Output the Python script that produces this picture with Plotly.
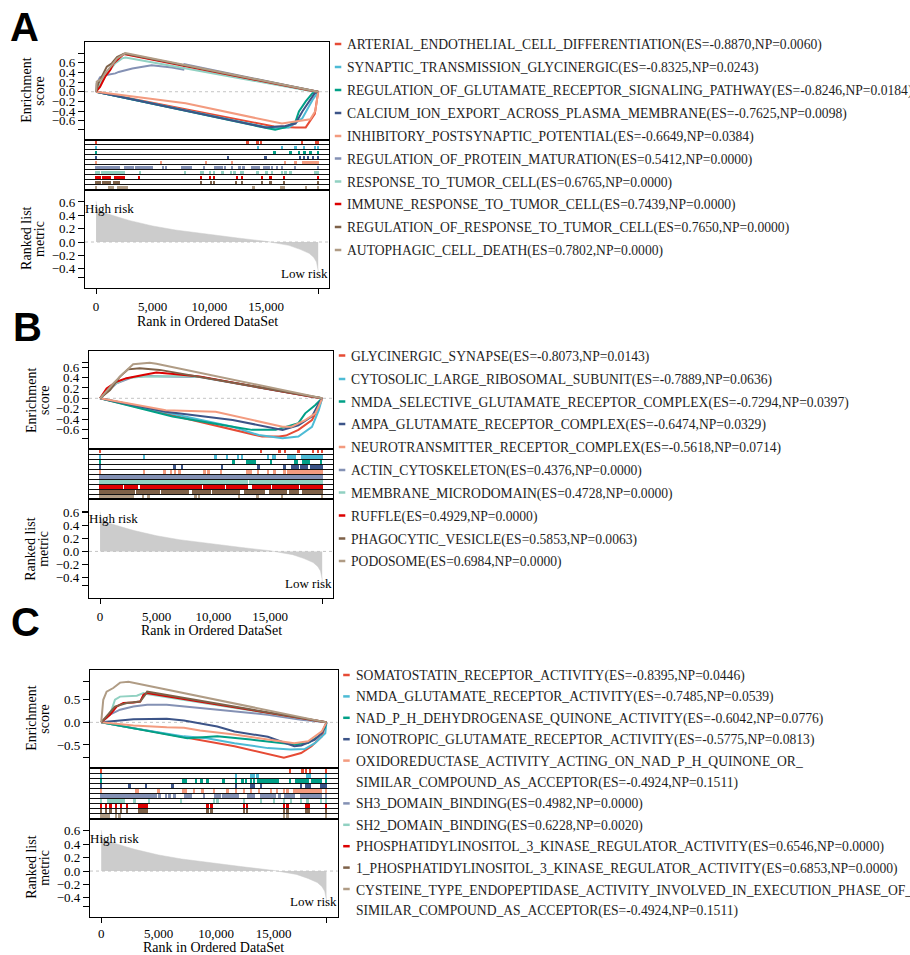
import plotly.graph_objects as go

W, H = 910, 955
N_GENES = 19600
SET_COLORS = ["#E64B35", "#4DBBD5", "#00A087", "#3C5488", "#F39B7F",
              "#8491B4", "#91D1C2", "#DC0000", "#7E6148", "#B09C85"]

RANK_TICKS = [0, 5000, 10000, 15000]
RANK_TICK_TEXT = ["0", "5,000", "10,000", "15,000"]

# ranked list metric (shared by the three panels)
METRIC_RANK = [0, 100, 300, 1000, 2000, 3000, 5000, 7000, 10000, 12500, 15000,
               16000, 17000, 18000, 18800, 19200, 19450, 19585, 19600]
METRIC_VALUE = [0.61, 0.50, 0.46, 0.42, 0.37, 0.32, 0.24, 0.18, 0.11, 0.06, 0.01,
                -0.015, -0.05, -0.11, -0.17, -0.23, -0.30, -0.42, -0.53]
METRIC_TICKS = [-0.4, -0.2, 0.0, 0.2, 0.4, 0.6]

# ---------------- panel A ----------------
A_TERMS = [
    "ARTERIAL_ENDOTHELIAL_CELL_DIFFERENTIATION(ES=-0.8870,NP=0.0060)",
    "SYNAPTIC_TRANSMISSION_GLYCINERGIC(ES=-0.8325,NP=0.0243)",
    "REGULATION_OF_GLUTAMATE_RECEPTOR_SIGNALING_PATHWAY(ES=-0.8246,NP=0.0184)",
    "CALCIUM_ION_EXPORT_ACROSS_PLASMA_MEMBRANE(ES=-0.7625,NP=0.0098)",
    "INHIBITORY_POSTSYNAPTIC_POTENTIAL(ES=-0.6649,NP=0.0384)",
    "REGULATION_OF_PROTEIN_MATURATION(ES=0.5412,NP=0.0000)",
    "RESPONSE_TO_TUMOR_CELL(ES=0.6765,NP=0.0000)",
    "IMMUNE_RESPONSE_TO_TUMOR_CELL(ES=0.7439,NP=0.0000)",
    "REGULATION_OF_RESPONSE_TO_TUMOR_CELL(ES=0.7650,NP=0.0000)",
    "AUTOPHAGIC_CELL_DEATH(ES=0.7802,NP=0.0000)",
]
A_ES_RANK = [
    [0, 15700, 17600, 18500, 19300, 19550, 19600],
    [0, 15550, 17000, 18200, 19100, 19450, 19600],
    [0, 15800, 16700, 17600, 17900, 18500, 19100, 19600],
    [0, 14950, 16700, 17600, 18200, 18700, 19300, 19600],
    [0, 7900, 16400, 17400, 18900, 19350, 19550, 19600],
    [0, 60, 350, 800, 1700, 2000, 3200, 4900, 6700, 7700, 7800, 18800, 19600],
    [0, 500, 1100, 1700, 2300, 2600, 18800, 19600],
    [0, 350, 800, 1250, 1550, 2000, 2450, 18800, 19600],
    [0, 200, 650, 950, 1400, 1850, 2500, 18800, 19600],
    [0, 60, 500, 800, 1400, 1850, 2600, 18800, 19600],
]
A_ES_SCORE = [
    [0, -0.72, -0.74, -0.74, -0.46, -0.03, 0],
    [0, -0.76, -0.74, -0.55, -0.17, -0.03, 0],
    [0, -0.79, -0.74, -0.62, -0.41, -0.20, -0.03, 0],
    [0, -0.74, -0.71, -0.66, -0.41, -0.24, -0.03, 0],
    [0, -0.24, -0.66, -0.62, -0.57, -0.40, -0.05, 0],
    [0, 0.17, 0.30, 0.34, 0.38, 0.41, 0.48, 0.55, 0.50, 0.46, 0.57, 0.03, 0],
    [0, 0.21, 0.41, 0.59, 0.69, 0.71, 0.02, 0],
    [0, 0.10, 0.31, 0.45, 0.59, 0.69, 0.78, 0.03, 0],
    [0, 0.17, 0.38, 0.52, 0.59, 0.72, 0.79, 0.03, 0],
    [0, 0.21, 0.26, 0.38, 0.55, 0.69, 0.80, 0.03, 0],
]
A_HITS = [
    [0, 13390, 14250, 14600, 18170, 19440, 19600],
    [0, 14310, 16430, 17610, 18350, 19320, 19600],
    [0, 15780, 17170, 17910, 18410, 18940, 19600],
    [0, 11650, 14960, 18000, 18350, 18730, 19150, 19600],
    [0, 5750, 9710, 12010, 16670, 17610, [18260, 19600]],
    [[0, 500], [650, 1100], [1250, 2000], [2570, 3300], [3500, 4200], [4400, 4930], 5930, 6170,
     [7580, 8350], 9530, [10470, 11100], 11420, 12010, 12690, 13040, [13780, 14370],
     [14810, 15250], 15550, 15990, 16430, 17550, 19600],
    [[0, 300], [500, 1000], [1100, 2450], 3900, 7880, [9290, 9410], 10090, 10410, 11180, 11950,
     12240, 12830, 13010, 14250, 15050, 15550, 16430, 16730, 17170, 19380, 19600],
    [[0, 350], [600, 1200], [1650, 2450], 3810, 9290, 10090, 10410, 12450, 12890, 14660, 15400,
     16580, 19600],
    [[0, 350], [600, 1200], [1600, 2000], 9290, 10180, 10410, 12360, 12890, 14660, 15400, 16580,
     19600],
    [0, [1150, 1500], [1970, 2690], 13930, [16280, 16580], 18560, 19600],
]
A_ES_TICKS = [-0.6, -0.4, -0.2, 0.0, 0.2, 0.4, 0.6]

# ---------------- panel B ----------------
B_TERMS = [
    "GLYCINERGIC_SYNAPSE(ES=-0.8073,NP=0.0143)",
    "CYTOSOLIC_LARGE_RIBOSOMAL_SUBUNIT(ES=-0.7889,NP=0.0636)",
    "NMDA_SELECTIVE_GLUTAMATE_RECEPTOR_COMPLEX(ES=-0.7294,NP=0.0397)",
    "AMPA_GLUTAMATE_RECEPTOR_COMPLEX(ES=-0.6474,NP=0.0329)",
    "NEUROTRANSMITTER_RECEPTOR_COMPLEX(ES=-0.5618,NP=0.0714)",
    "ACTIN_CYTOSKELETON(ES=0.4376,NP=0.0000)",
    "MEMBRANE_MICRODOMAIN(ES=0.4728,NP=0.0000)",
    "RUFFLE(ES=0.4929,NP=0.0000)",
    "PHAGOCYTIC_VESICLE(ES=0.5853,NP=0.0063)",
    "PODOSOME(ES=0.6984,NP=0.0000)",
]
B_ES_RANK = [
    [0, 14300, 15800, 16400, 17500, 18700, 19300, 19600],
    [0, 11700, 14000, 16100, 17500, 18700, 19300, 19600],
    [0, 6400, 11700, 13400, 15500, 17500, 18100, 19000, 19600],
    [0, 5800, 11700, 16100, 17500, 18700, 19300, 19600],
    [0, 5800, 10200, 16100, 16900, 18100, 19000, 19600],
    [0, 1460, 2900, 4400, 5800, 8800, 18700, 19600],
    [0, 1170, 2340, 3800, 5260, 7000, 8800, 18700, 19600],
    [0, 580, 1460, 2340, 3800, 4970, 6500, 8770, 18700, 19600],
    [0, 880, 1750, 2480, 3500, 5260, 19600],
    [0, 1170, 2040, 2920, 4380, 4970, 19600],
]
B_ES_SCORE = [
    [0, -0.74, -0.74, -0.72, -0.61, -0.42, -0.17, 0],
    [0, -0.55, -0.71, -0.77, -0.74, -0.55, -0.23, 0],
    [0, -0.35, -0.55, -0.61, -0.61, -0.48, -0.29, -0.13, 0],
    [0, -0.26, -0.42, -0.61, -0.52, -0.35, -0.10, 0],
    [0, -0.23, -0.26, -0.55, -0.55, -0.42, -0.29, 0],
    [0, 0.29, 0.41, 0.43, 0.42, 0.41, 0.03, 0],
    [0, 0.26, 0.39, 0.42, 0.42, 0.43, 0.41, 0.03, 0],
    [0, 0.19, 0.32, 0.39, 0.45, 0.50, 0.47, 0.42, 0.03, 0],
    [0, 0.16, 0.42, 0.56, 0.58, 0.55, 0],
    [0, 0.29, 0.48, 0.66, 0.69, 0.67, 0],
]
B_HITS = [
    [0, 14240, 15860, 16360, 17540, 18810, 19250, 19600],
    [0, 3880, 10210, 11240, 12180, 12570, 14830, 15270, 15420, [16600, 17200], [17800, 19600]],
    [0, 11800, [13000, 13700], 15130, 17250, 17420, [17900, 18400], 19540],
    [0, 6590, 7270, 10770, 14010, 16300, [16900, 17500], [17700, 18300], [18600, 19600]],
    [0, 3880, 5710, 6300, 6650, 7030, 9240, 9590, 10710, [13000, 13360], 13950, 14830, 15420,
     16300, [16600, 19600]],
    [[0, 6000], [6150, 19600]],
    [[0, 9500], [9700, 13000], [13200, 19600]],
    [[0, 1950], [2200, 3300], [3600, 8900], [9200, 10900], [11200, 13000], [13500, 15000],
     [15300, 17500], [17700, 19600]],
    [[0, 3000], [3300, 5200], [5500, 7800], [8200, 9700], [10000, 12300], [12800, 14500],
     [15000, 16400], [16800, 17500], [17900, 19600]],
    [[0, 2900], 3800, 4300, 8450, 8750, 12300, 13900, 16100, 19600],
]
B_ES_TICKS = [-0.6, -0.4, -0.2, 0.0, 0.2, 0.4, 0.6]

# ---------------- panel C ----------------
C_TERMS = [
    "SOMATOSTATIN_RECEPTOR_ACTIVITY(ES=-0.8395,NP=0.0446)",
    "NMDA_GLUTAMATE_RECEPTOR_ACTIVITY(ES=-0.7485,NP=0.0539)",
    "NAD_P_H_DEHYDROGENASE_QUINONE_ACTIVITY(ES=-0.6042,NP=0.0776)",
    "IONOTROPIC_GLUTAMATE_RECEPTOR_ACTIVITY(ES=-0.5775,NP=0.0813)",
    "OXIDOREDUCTASE_ACTIVITY_ACTING_ON_NAD_P_H_QUINONE_OR_\nSIMILAR_COMPOUND_AS_ACCEPTOR(ES=-0.4924,NP=0.1511)",
    "SH3_DOMAIN_BINDING(ES=0.4982,NP=0.0000)",
    "SH2_DOMAIN_BINDING(ES=0.6228,NP=0.0020)",
    "PHOSPHATIDYLINOSITOL_3_KINASE_REGULATOR_ACTIVITY(ES=0.6546,NP=0.0000)",
    "1_PHOSPHATIDYLINOSITOL_3_KINASE_REGULATOR_ACTIVITY(ES=0.6853,NP=0.0000)",
    "CYSTEINE_TYPE_ENDOPEPTIDASE_ACTIVITY_INVOLVED_IN_EXECUTION_PHASE_OF_APOPTOSIS\nSIMILAR_COMPOUND_AS_ACCEPTOR(ES=-0.4924,NP=0.1511)",
]
C_ES_RANK = [
    [0, 7200, 11600, 15900, 17400, 18300, 19200, 19600],
    [0, 2800, 7200, 9200, 11600, 14500, 16500, 17700, 18600, 19500, 19600],
    [0, 4300, 7500, 10100, 13000, 16800, 18000, 18900, 19450, 19600],
    [0, 2800, 5700, 7200, 10100, 11600, 14500, 16800, 17400, 18600, 19200, 19600],
    [0, 2800, 5700, 7200, 8600, 11600, 14500, 16800, 18000, 19200, 19600],
    [0, 760, 1640, 2800, 4000, 5700, 8600, 11600, 14500, 17400, 19600],
    [0, 470, 910, 1200, 1640, 3100, 3680, 3970, 19600],
    [0, 760, 1340, 1930, 2800, 3390, 3680, 3970, 19600],
    [0, 760, 1200, 2220, 3390, 3830, 4000, 19600],
    [0, 180, 470, 1050, 1640, 2370, 19600],
]
C_ES_SCORE = [
    [0, -0.32, -0.53, -0.78, -0.68, -0.53, -0.31, 0],
    [0, -0.13, -0.31, -0.35, -0.46, -0.57, -0.60, -0.59, -0.46, -0.24, 0],
    [0, -0.20, -0.35, -0.31, -0.38, -0.49, -0.46, -0.31, -0.13, 0],
    [0, 0.07, 0.08, 0.04, -0.09, -0.20, -0.32, -0.53, -0.51, -0.38, -0.24, 0],
    [0, -0.07, -0.11, -0.12, -0.18, -0.27, -0.38, -0.46, -0.42, -0.20, 0],
    [0, 0.17, 0.28, 0.35, 0.39, 0.39, 0.32, 0.24, 0.17, 0.06, 0],
    [0, 0.10, 0.28, 0.50, 0.57, 0.59, 0.65, 0.63, 0],
    [0, 0.17, 0.35, 0.43, 0.44, 0.46, 0.61, 0.65, 0],
    [0, 0.21, 0.35, 0.43, 0.46, 0.61, 0.68, 0],
    [0, 0.50, 0.68, 0.76, 0.88, 0.90, 0],
]
C_HITS = [
    [0, 16440, 17540, 17830, 18210, 19600],
    [0, 11740, 13050, 13280, 13630, 17980, 18180, 19600],
    [0, [7100, 7400], 8270, 8760, 9280, 10670, 11740, 12320, 12610, 13050, 13340, [13600, 14100],
     [14200, 15400], 16470, [16960, 18000], [18300, 19100], 19600],
    [0, 2470, 3920, 6240, 11740, [13050, 13340], 13920, 17400, [17830, 18210], [19130, 19600]],
    [0, [3050, 3200], 4990, [7100, 7400], 8120, 8850, 9860, 11020, 11740, 12470, 13050, 13770,
     14790, 15310, 15950, 16240, [16800, 19100], 19600],
    [[0, 3500], [3600, 4800], 5080, 5650, 5950, 6380, [7250, 7830], 8990, [9860, 10300],
     [10600, 11900], [12750, 13340], [13900, 15100], 15520, [15950, 16800], [17400, 19100], 19600],
    [0, [580, 2000], 2900, 4200, 6960, 9860, 10150, 12470, 13920, 15080, 15950, 16530, 17400,
     17980, 19130, 19600],
    [0, 440, 820, 1310, 1740, 2260, [3250, 4000], 9280, 9630, 12470, 12700, 15950, 16240,
     [17830, 18120], 19600],
    [0, 440, 820, 1310, 1740, 2260, [3250, 4000], 9280, 9630, 12470, 12700, 15950, 16240,
     [17830, 18120], 19600],
    [[0, 640], 1310, 1600, 15950, 16240, 19600],
]
C_ES_TICKS = [-0.5, 0.0, 0.5]

# ---------------- style / geometry (pixels) ----------------
SERIF = "Liberation Serif, Times New Roman, Tinos, Nimbus Roman, DejaVu Serif, serif"
SANS = "Liberation Sans, Arial, Helvetica, sans-serif"
LW = 1.3
HIT_PAD = 85
X_RANGE = [-975, 20580]
LEGEND_FONT = 13.6

PANELS = [
    dict(letter="A", letter_xy=(24, 27.5), terms=A_TERMS, es_rank=A_ES_RANK, es_score=A_ES_SCORE,
         hits=A_HITS, es_ticks=A_ES_TICKS, left=85, right=329.3,
         es=(42, 139.5), hit=(139.5, 189.5), rank=(189.5, 288.3),
         es_range=[-0.99, 1.03], rank_range=[-0.694, 0.787], title_dy=33,
         legend_y=[45, 68, 91, 114, 137, 159.5, 182.5, 205, 228, 251]),
    dict(letter="B", letter_xy=(27, 327), terms=B_TERMS, es_rank=B_ES_RANK, es_score=B_ES_SCORE,
         hits=B_HITS, es_ticks=B_ES_TICKS, left=89, right=333.3,
         es=(351, 449), hit=(449, 499.3), rank=(499.3, 598.3),
         es_range=[-0.98, 0.915], rank_range=[-0.72, 0.80], title_dy=32.5,
         legend_y=[356.5, 380, 402.5, 425, 448, 471, 493.5, 516.5, 539.5, 562]),
    dict(letter="C", letter_xy=(25, 621.5), terms=C_TERMS, es_rank=C_ES_RANK, es_score=C_ES_SCORE,
         hits=C_HITS, es_ticks=C_ES_TICKS, left=90, right=337.7,
         es=(669.5, 768), hit=(768, 819), rank=(819, 916.7),
         es_range=[-1.01, 1.17], rank_range=[-0.68, 0.776], title_dy=30.5,
         legend_y=[676, 697.4, 718.8, 740.2, 761.6, 783, 804.4, 825.8, 847.2, 868.6, 890, 911.4]),
]


def fx(px):
    return px / W


def fy(py):
    return 1 - py / H


def tick_text(v):
    t = f"{v:.1f}"
    if t == "-0.0":
        t = "0.0"
    return t.replace("-", "\u2212")


def ax_names(i):
    s = "" if i == 1 else str(i)
    return "x" + s, "y" + s, "xaxis" + s, "yaxis" + s


fig = go.Figure()
layout_axes = {}
annotations = []
shapes = []

for p, P in enumerate(PANELS):
    base = 3 * p
    es_i, hit_i, rk_i = base + 1, base + 2, base + 3
    boxes = [P["es"], P["hit"], P["rank"]]
    for s, i in enumerate([es_i, hit_i, rk_i]):
        xr, yr, xk, yk = ax_names(i)
        top, bot = boxes[s]
        xa = dict(domain=[fx(P["left"]), fx(P["right"])], range=X_RANGE, anchor=yr,
                  showline=True, mirror=True, linecolor="black", linewidth=LW,
                  showgrid=False, zeroline=False, ticks="", showticklabels=False,
                  fixedrange=True)
        ya = dict(domain=[fy(bot), fy(top)], anchor=xr, showline=True, mirror=True,
                  linecolor="black", linewidth=LW, showgrid=False, zeroline=False,
                  fixedrange=True, tickfont=dict(family=SERIF, size=13, color="black"))
        if s == 0:
            all_scores = [v for row in P["es_score"] for v in row]
            ya.update(range=P["es_range"], tickmode="array", tickvals=P["es_ticks"],
                      ticktext=[tick_text(v) for v in P["es_ticks"]], ticks="outside",
                      ticklen=6, tickwidth=LW, tickcolor="black",
                      minor=dict(tickmode="array", tickvals=[min(all_scores), max(all_scores)],
                                 ticks="outside", ticklen=6, tickwidth=LW, tickcolor="black"))
        elif s == 1:
            ya.update(range=[0, 10], tickmode="array", tickvals=list(range(11)),
                      showgrid=True, gridcolor="#111111", gridwidth=LW,
                      showticklabels=False, ticks="")
        else:
            ya.update(range=P["rank_range"], tickmode="array", tickvals=METRIC_TICKS,
                      ticktext=[tick_text(v) for v in METRIC_TICKS], ticks="outside",
                      ticklen=6, tickwidth=LW, tickcolor="black",
                      minor=dict(tickmode="array", tickvals=[min(METRIC_VALUE), max(METRIC_VALUE)],
                                 ticks="outside", ticklen=6, tickwidth=LW, tickcolor="black"))
            xa.update(showticklabels=True, tickmode="array", tickvals=RANK_TICKS,
                      ticktext=RANK_TICK_TEXT, ticklabelstandoff=6 if p < 2 else 5,
                      tickfont=dict(family=SERIF, size=13, color="black"))
        layout_axes[xk] = xa
        layout_axes[yk] = ya

    # overlay axis carrying the two end tick marks at 0 and N
    ov = 9 + p + 1
    ovx, _, ovxk, _ = ax_names(ov)
    rk_xr, rk_yr, _, _ = ax_names(rk_i)
    layout_axes[ovxk] = dict(overlaying=rk_xr, anchor=rk_yr, side="bottom", range=X_RANGE,
                             tickmode="array", tickvals=[0, N_GENES], ticktext=["", ""],
                             ticks="outside", ticklen=5, tickwidth=LW, tickcolor="black",
                             showline=False, showgrid=False, zeroline=False, fixedrange=True)
    fig.add_trace(go.Scatter(x=[None], y=[None], xaxis=ovx, yaxis=rk_yr,
                             showlegend=False, hoverinfo="skip"))

    # ES curves
    xr, yr, _, _ = ax_names(es_i)
    for k in range(10):
        fig.add_trace(go.Scatter(x=P["es_rank"][k], y=P["es_score"][k], mode="lines",
                                 line=dict(color=SET_COLORS[k], width=2),
                                 xaxis=xr, yaxis=yr, showlegend=False, hoverinfo="skip"))
    shapes.append(dict(type="line", xref=xr + " domain", yref=yr, x0=0, x1=1, y0=0, y1=0,
                       line=dict(color="#C4C4C4", width=1, dash="3px,3px"), layer="below"))

    # hit ticks
    xr, yr, _, _ = ax_names(hit_i)
    for k in range(10):
        spans = [(h, h) if isinstance(h, (int, float)) else (h[0], h[1]) for h in P["hits"][k]]
        fig.add_trace(go.Bar(orientation="h", y=[9.5 - k] * len(spans),
                             x=[e - s0 + 2 * HIT_PAD for s0, e in spans],
                             base=[s0 - HIT_PAD for s0, e in spans], width=0.78,
                             marker=dict(color=SET_COLORS[k], line=dict(width=0)),
                             xaxis=xr, yaxis=yr, showlegend=False, hoverinfo="skip"))

    # ranked list metric
    xr, yr, _, _ = ax_names(rk_i)
    fig.add_trace(go.Scatter(x=METRIC_RANK, y=METRIC_VALUE, mode="lines", fill="tozeroy",
                             fillcolor="#CCCCCC", line=dict(color="#CCCCCC", width=0.5),
                             xaxis=xr, yaxis=yr, showlegend=False, hoverinfo="skip"))
    shapes.append(dict(type="line", xref=xr + " domain", yref=yr, x0=0, x1=1, y0=0, y1=0,
                       line=dict(color="#C4C4C4", width=1, dash="3px,3px"), layer="above"))

    # panel letter
    annotations.append(dict(x=fx(P["letter_xy"][0]), y=fy(P["letter_xy"][1]), xref="paper",
                            yref="paper", text="<b>%s</b>" % P["letter"], showarrow=False,
                            xanchor="center", yanchor="middle",
                            font=dict(family=SANS, size=40, color="black")))
    # y titles
    es_mid = (P["es"][0] + P["es"][1]) / 2
    rk_mid = (P["rank"][0] + P["rank"][1]) / 2
    for txt, dx, ymid in [("Enrichment", -58, es_mid), ("score", -45, es_mid),
                          ("Ranked list", -58, rk_mid), ("metric", -45, rk_mid)]:
        annotations.append(dict(x=fx(P["left"] + dx), y=fy(ymid), xref="paper", yref="paper",
                                text=txt, textangle=-90, showarrow=False, xanchor="center",
                                yanchor="middle", font=dict(family=SERIF, size=14, color="black")))
    # x title
    annotations.append(dict(x=fx((P["left"] + P["right"]) / 2), y=fy(P["rank"][1] + P["title_dy"]),
                            xref="paper", yref="paper", text="Rank in Ordered DataSet",
                            showarrow=False, xanchor="center", yanchor="middle",
                            font=dict(family=SERIF, size=14, color="black")))
    # risk labels
    annotations.append(dict(x=fx(P["left"] - 2.5), y=fy(P["rank"][0] + 19), xref="paper",
                            yref="paper", text="High risk", showarrow=False, xanchor="left",
                            yanchor="middle", font=dict(family=SERIF, size=13, color="black")))
    annotations.append(dict(x=fx(P["right"] + 1), y=fy(P["rank"][1] - 15), xref="paper",
                            yref="paper", text="Low risk", showarrow=False, xanchor="right",
                            yanchor="middle", font=dict(family=SERIF, size=13, color="black")))
    # legend
    line_no = 0
    for k, term in enumerate(P["terms"]):
        parts = term.split("\n")
        y0 = P["legend_y"][line_no]
        shapes.append(dict(type="line", xref="paper", yref="paper",
                           x0=fx(P["right"] + 5.5), x1=fx(P["right"] + 12),
                           y0=fy(y0 - 1), y1=fy(y0 - 1),
                           line=dict(color=SET_COLORS[k], width=2.5)))
        for part in parts:
            annotations.append(dict(x=fx(P["right"] + 16), y=fy(P["legend_y"][line_no]),
                                    xref="paper", yref="paper", text=part, showarrow=False,
                                    xanchor="left", yanchor="middle",
                                    font=dict(family=SERIF, size=LEGEND_FONT, color="#1e1e1e")))
            line_no += 1

fig.update_layout(width=W, height=H, margin=dict(l=0, r=0, t=0, b=0),
                  paper_bgcolor="white", plot_bgcolor="white", showlegend=False,
                  barmode="overlay", bargap=0, annotations=annotations, shapes=shapes,
                  font=dict(family=SERIF, size=13, color="black"), **layout_axes)

fig.write_html("out.html", config={"displayModeBar": False},
               post_script="document.body.style.margin='0';document.body.style.overflow='hidden';")
